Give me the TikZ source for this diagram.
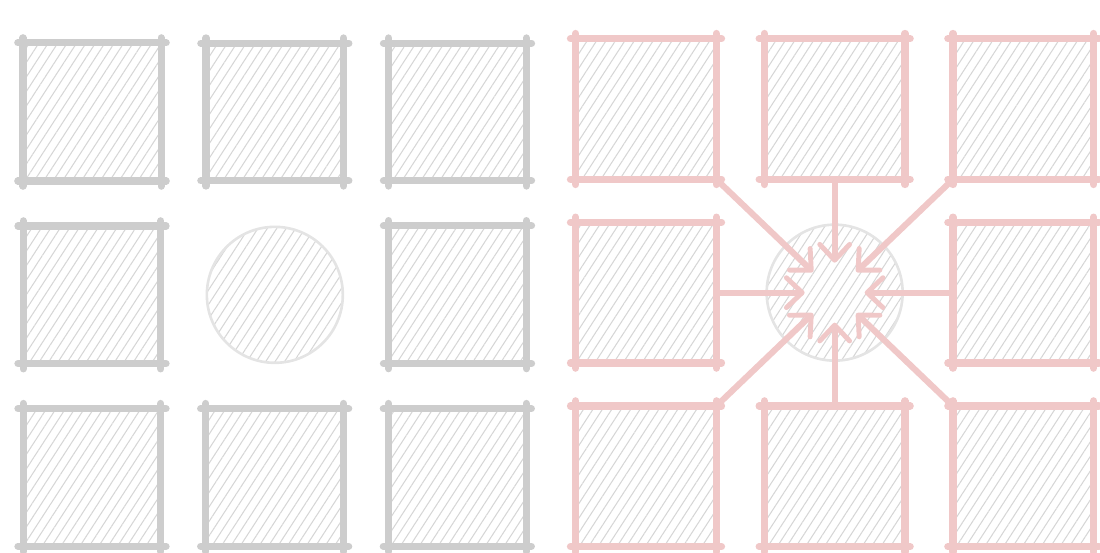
\documentclass[tikz,border=0pt]{standalone}
\usepackage{xcolor}
\usepackage{tikz}
\usetikzlibrary{positioning, arrows.meta, patterns.meta}
\definecolor{boxgray}{RGB}{205,205,205}
\definecolor{boxpink}{RGB}{240,200,200}
\definecolor{hatchgray}{RGB}{214,214,214}
\definecolor{ringgray}{RGB}{228,228,228}

% sketchy frame: four sides that run a little past the corners
\newcommand{\roughbox}[2]{%
  \draw[#2, line width=4pt, line cap=round, shorten <=-3pt, shorten >=-3pt] (#1.north west) -- (#1.north east);
  \draw[#2, line width=4pt, line cap=round, shorten <=-3pt, shorten >=-3pt] (#1.north east) -- (#1.south east);
  \draw[#2, line width=4pt, line cap=round, shorten <=-3pt, shorten >=-3pt] (#1.south east) -- (#1.south west);
  \draw[#2, line width=4pt, line cap=round, shorten <=-3pt, shorten >=-3pt] (#1.south west) -- (#1.north west);
}

\begin{document}
\begin{tikzpicture}[
        x=0.02cm, y=-0.02cm,
        hatch/.style={pattern={Lines[angle=57, distance=4.5pt, line width=0.6pt]}, pattern color=hatchgray},
        tile/.style={rectangle, minimum size=2.74cm, hatch, inner sep=0pt},
        bigtile/.style={rectangle, minimum size=2.8cm, hatch, inner sep=0pt},
        hub/.style={circle, minimum size=2.72cm, hatch, draw=ringgray, line width=1.5pt, inner sep=0pt},
        arr/.style={draw=boxpink, line width=3.5pt, line cap=round, -{Straight Barb[length=9pt, width=17pt, line width=2.8pt, round]}, shorten >=0.6cm}
    ]
    \useasboundingbox (0,0) rectangle (1100,553);

    % left grid
    \begin{scope}[node distance=0.9cm and 0.9cm]
    \node[tile] (l11) at (92,112) {};
    \node[tile] (l12) [right=of l11] {};
    \node[tile] (l13) [right=of l12] {};
    \node[tile] (l21) [below=of l11] {};
    \node[hub]  (lhub) at (l12 |- l21) {};
    \node[tile] (l23) [below=of l13] {};
    \node[tile] (l31) [below=of l21] {};
    \node[tile] (l32) [right=of l31] {};
    \node[tile] (l33) [right=of l32] {};
    \end{scope}
    \foreach \n in {l11,l12,l13,l21,l23,l31,l32,l33}
        \roughbox{\n}{boxgray};

    % right grid
    \begin{scope}[node distance=0.86cm and 0.96cm]
    \node[bigtile] (r11) at (646,109) {};
    \node[bigtile] (r12) [right=of r11] {};
    \node[bigtile] (r13) [right=of r12] {};
    \node[bigtile] (r21) [below=of r11] {};
    \node[hub]     (rhub) at (r12 |- r21) {};
    \node[bigtile] (r23) [below=of r13] {};
    \node[bigtile] (r31) [below=of r21] {};
    \node[bigtile] (r32) [right=of r31] {};
    \node[bigtile] (r33) [right=of r32] {};
    \end{scope}

    \draw[arr] (r11.south east) -- (rhub.center);
    \draw[arr] (r12.south) -- (rhub.center);
    \draw[arr] (r13.south west) -- (rhub.center);
    \draw[arr] (r21.east) -- (rhub.center);
    \draw[arr] (r23.west) -- (rhub.center);
    \draw[arr] (r31.north east) -- (rhub.center);
    \draw[arr] (r32.north) -- (rhub.center);
    \draw[arr] (r33.north west) -- (rhub.center);

    \foreach \n in {r11,r12,r13,r21,r23,r31,r32,r33}
        \roughbox{\n}{boxpink};

    \end{tikzpicture}
\end{document}
